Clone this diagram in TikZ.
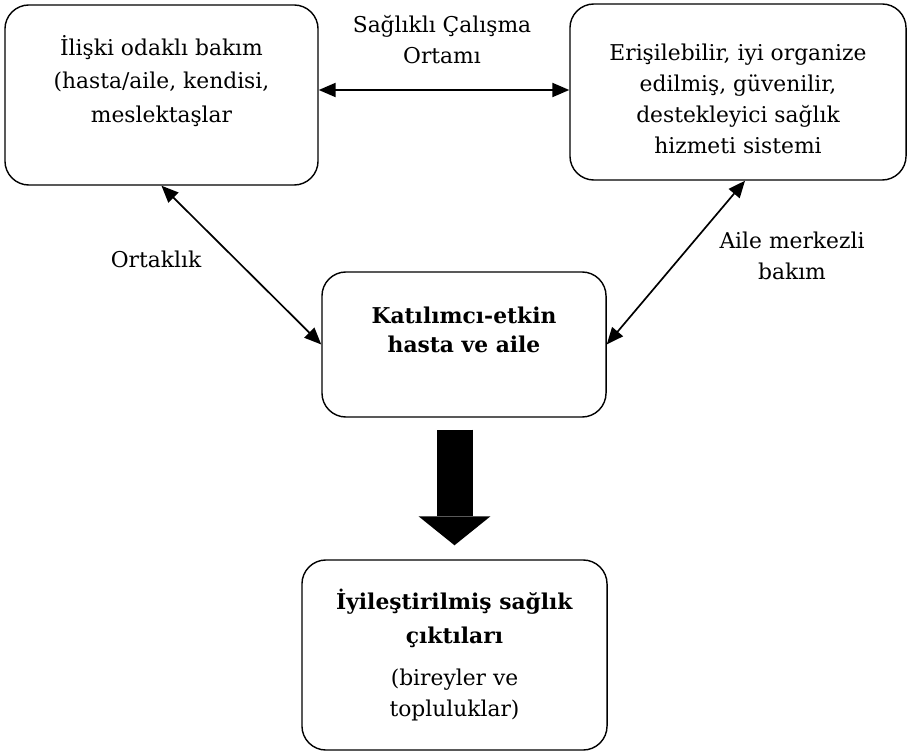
\documentclass[tikz,border=0pt]{standalone}
\usepackage{fontspec}
\setmainfont{DejaVu Serif}
\usetikzlibrary{arrows.meta,calc}

\begin{document}
\begin{tikzpicture}[x=0.025cm, y=-0.025cm,
	box/.style={draw, line width=1pt, rounded corners=0.6cm, align=center, inner sep=0pt, font=\fontsize{15.5}{22}\selectfont},
	lbl/.style={align=center, inner sep=0pt, font=\fontsize{15.5}{22}\selectfont},
	link/.style={{Triangle[length=12pt,width=10pt]}-{Triangle[length=12pt,width=10pt]}, line width=1.2pt},
	bigarrow/.style={-{Triangle[length=0.725cm,width=1.8cm,line width=0pt]}, line width=0.9cm}
]
	\useasboundingbox (0,0) rectangle (911,753);

	% Boxes
	\node[box, minimum width=7.825cm, minimum height=4.5cm, font=\fontsize{15.5}{24}\selectfont] (rel) at (161.5,95) {İlişki odaklı bakım\\(hasta/aile, kendisi,\\meslektaşlar\rule[-23pt]{0pt}{23pt}};
	\node[box, minimum width=8.4cm, minimum height=4.4cm] (sys) at (738,92) {\rule{0pt}{22pt}Erişilebilir, iyi organize\\edilmiş, güvenilir,\\destekleyici sağlık\\hizmeti sistemi};
	\node[box, minimum width=7.1cm, minimum height=3.625cm, font=\bfseries\fontsize{15.5}{20.6}\selectfont] (pat) at (464,344.5) {Katılımcı-etkin\\hasta ve aile\rule[-21pt]{0pt}{21pt}};
	\node[box, minimum width=7.625cm, minimum height=4.75cm] (out) at (454.5,655) {\textbf{İyileştirilmiş sağlık}\\[2.8pt]\textbf{çıktıları}\\[7.8pt](bireyler ve\\topluluklar)};

	% Labels
	\node[lbl] (work) at (442,40) {Sağlıklı Çalışma\\Ortamı};
	\node[lbl] (part) at (156,259) {Ortaklık};
	\node[lbl] (fam) at (792,256) {Aile merkezli\\bakım};

	% Arrows
	\draw[link] ($(rel.east)+(0,-5)$) -- ($(sys.west)+(0,-2)$);
	\draw[link] (rel.south) -- (pat.west);
	\draw[link] ($(sys.south)+(7,0)$) -- (pat.east);
	\draw[bigarrow] ($(out.north |- pat.south)+(0,12)$) -- ($(out.north)+(0,-14)$);
\end{tikzpicture}
\end{document}
